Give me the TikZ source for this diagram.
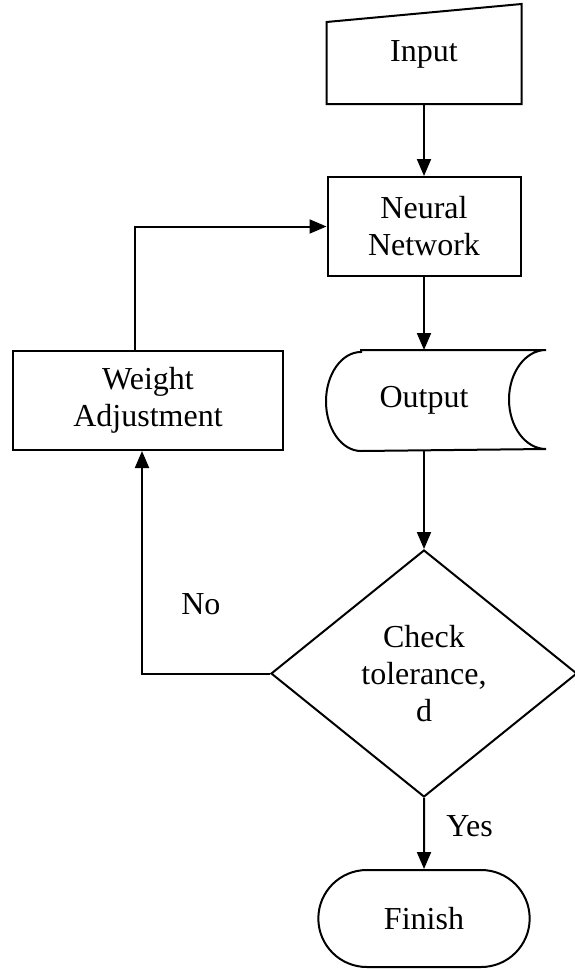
\documentclass[tikz,border=0pt]{standalone}
\usepackage{fontspec}
\setmainfont{Liberation Serif}
\usetikzlibrary{arrows.meta,positioning,shapes.geometric,shapes.misc}

\begin{document}
\begin{tikzpicture}[->,>={Triangle[length=17pt,width=14pt]},line width=2pt,node distance=174pt,
  font=\fontsize{32}{37}\selectfont]

    \tikzstyle{box}=[rectangle,draw,minimum width=193pt,minimum height=99pt,align=center]
    \tikzstyle{manual}=[rectangle,minimum width=193pt,minimum height=98pt]
    \tikzstyle{stored}=[rectangle,minimum width=194pt,minimum height=99pt]
    \tikzstyle{decision}=[diamond,draw,minimum width=306pt,minimum height=247pt,inner sep=0pt,align=center]
    \tikzstyle{terminal}=[rounded rectangle,draw,minimum width=218pt,minimum height=97pt]

    \useasboundingbox (0,0) rectangle (575pt,-969pt);

    \node[manual]   (in)  at (424pt,-54pt)                        {Input};
    \node[box]      (nn)  [node distance=172.5pt, below of=in]    {Neural\\Network};
    \node[stored]   (out) [below of=nn]                           {Output};
    \node[box, minimum width=270pt] (wa) [node distance=276pt, left of=out] {Weight\\Adjustment};
    \node[decision] (dia) [node distance=273pt, below of=out]     {Check\\tolerance,\\d};
    \node[terminal] (fin) [node distance=245pt, below of=dia]     {Finish};

    % outlines of input and output
    \draw[-] (in.south west) -- (in.south east) -- (in.north east) -- ([yshift=-18pt]in.north west) -- cycle;
    \draw[-] ([xshift=35pt]out.north west) -- ([xshift=24pt]out.north east)
        arc[start angle=90,end angle=270,x radius=37pt,y radius=49.5pt]
        -- ([xshift=35pt]out.south west)
        arc[start angle=270,end angle=90,x radius=35pt,y radius=49.5pt] -- cycle;

    \path (in) edge (nn)
          (nn) edge (out)
          (out) edge (dia)
          (dia) edge node[pos=0.4,right=18pt] {Yes} (fin)
    ;
    \draw ([xshift=-13pt]wa.north) |- (nn.west);
    \draw (dia.west) -| node[pos=0.655,right=35pt] {No} ([xshift=-6pt]wa.south);
\end{tikzpicture}
\end{document}
